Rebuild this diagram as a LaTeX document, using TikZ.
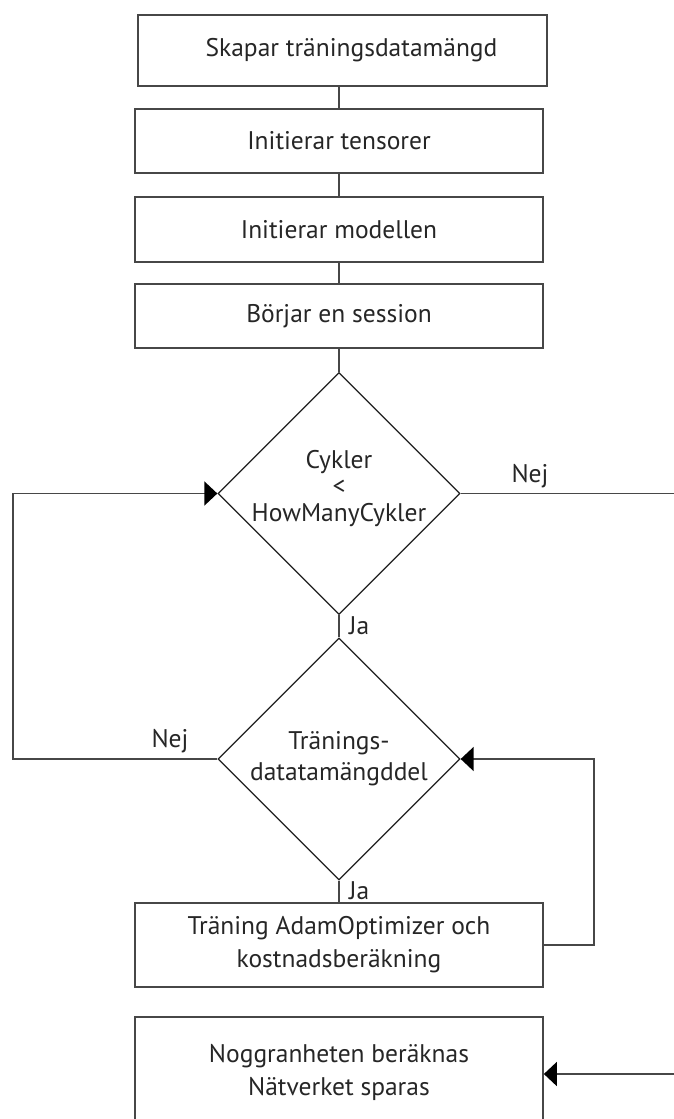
\documentclass[tikz,border=0pt]{standalone}
\usepackage{fontspec}
\setmainfont{PT Sans}
\usetikzlibrary{shapes.geometric,arrows.meta}
\begin{document}
\begin{tikzpicture}[x=1pt,y=-1pt,
  txt/.style={font=\fontsize{25.5}{33}\selectfont, text=black!85},
  box/.style={txt, draw=black!72, line width=1.7pt, minimum width=408pt, inner sep=0pt, align=center},
  dia/.style={draw=black!88, line width=1.3pt, diamond, aspect=1, minimum width=242pt, minimum height=242pt, inner sep=0pt},
  conn/.style={draw=black!72, line width=1.7pt},
  arr/.style={-{Triangle[length=13pt,width=24pt,color=black,fill=black]}},
  lbl/.style={txt, inner sep=0pt}
]
\useasboundingbox (0,0) rectangle (674,1119);
\node[box, minimum width=409pt, minimum height=71pt] (b1) at (342.5,50.5) {\hspace*{18pt}Skapar träningsdatamängd};
\node[box, minimum height=64pt] (b2) at (339,141) {Initierar tensorer};
\node[box, minimum height=65pt] (b3) at (339,229.5) {Initierar modellen};
\node[box, minimum height=64pt] (b4) at (339,316) {Börjar en session};
\node[dia] (d1) at (339,493.5) {};
\node[lbl, align=center, font=\fontsize{25.5}{26.5}\selectfont] (t1) at (339,488.5) {Cykler\\<\\HowManyCykler};
\node[dia] (d2) at (339,759) {};
\node[lbl, align=center, font=\fontsize{25.5}{31}\selectfont] (t2) at (339,759) {Tränings-\\datatamängddel};
\node[box, minimum height=84pt] (b5) at (339,945) {Träning AdamOptimizer och\\kostnadsberäkning};
\node[box, minimum height=110pt] (b6) at (339,1072) {Noggranheten beräknas\\Nätverket sparas};

\coordinate (R1) at (674,493.5);
\coordinate (L) at (13,759);
\coordinate (R5) at (594,945);
\coordinate (R2) at (674,1074);

\draw[conn] (b1.south -| b2.north) -- (b2.north);
\draw[conn] (b2.south) -- (b3.north);
\draw[conn] (b3.south) -- (b4.north);
\draw[conn] (b4.south) -- (d1.north);
\draw[conn] (d1.south) -- (d2.north);
\draw[conn] (d2.south) -- (b5.north);
\draw[conn] (d1.east) -- (R1);
\draw[conn, arr] (d2.west) -- (L) |- (d1.west);
\draw[conn, arr] (b5.east) -- (R5) |- (d2.east);
\draw[conn, arr] (R2) -- (b6.east |- R2);

\node[lbl, anchor=south] (n1) at (530,488) {Nej};
\node[lbl, anchor=west] (j1) at (349,626) {Ja};
\node[lbl, anchor=south] (n2) at (170,753) {Nej};
\node[lbl, anchor=west] (j2) at (349,891) {Ja};
\end{tikzpicture}
\end{document}
